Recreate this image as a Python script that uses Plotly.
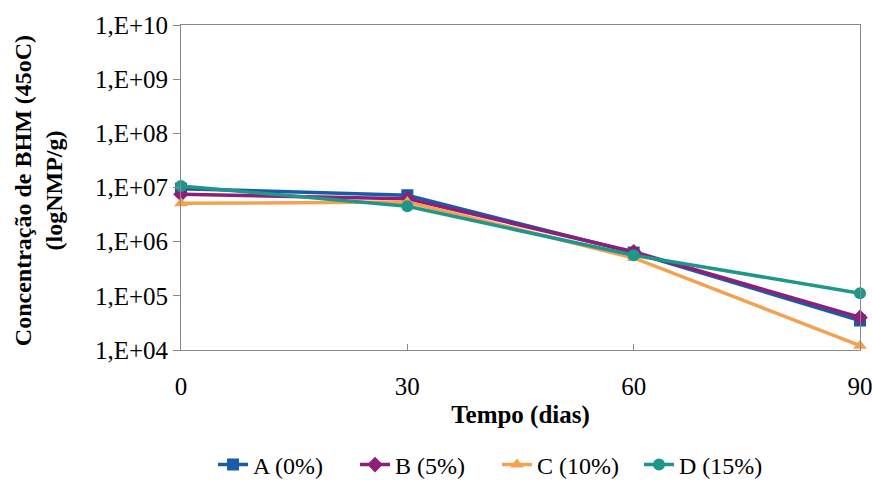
import plotly.graph_objects as go

# Sampling days and BHM counts (NMP/g) for each treatment
dias = [0, 30, 60, 90]
serie_a = [9.5e6, 7.2e6, 6.3e5, 3.5e4]
serie_b = [7.5e6, 6.2e6, 6.5e5, 4.0e4]
serie_c = [5.1e6, 5.4e6, 5.0e5, 1.2e4]
serie_d = [1.07e7, 4.5e6, 5.6e5, 1.12e5]

nomes = ["A (0%)", "B (5%)", "C (10%)", "D (15%)"]
y_tick_vals = [1e4, 1e5, 1e6, 1e7, 1e8, 1e9, 1e10]
y_tick_text = ["1,E+04", "1,E+05", "1,E+06", "1,E+07", "1,E+08", "1,E+09", "1,E+10"]
x_tick_vals = [0, 30, 60, 90]

estilos = [
    ("#1b5aa6", "square"),
    ("#8e1f78", "diamond"),
    ("#f4a251", "triangle-up"),
    ("#1f968a", "circle"),
]

fonte = "Liberation Serif, Times New Roman, serif"

fig = go.Figure()
for nome, ys, (cor, simbolo) in zip(nomes, [serie_a, serie_b, serie_c, serie_d], estilos):
    fig.add_trace(go.Scatter(
        x=dias, y=ys, name=nome, mode="lines+markers",
        line=dict(color=cor, width=3.5),
        marker=dict(symbol=simbolo, size=12, color=cor),
        cliponaxis=False,
    ))

fig.update_layout(
    width=872, height=480,
    margin=dict(l=181, r=12, t=25, b=130, autoexpand=False),
    paper_bgcolor="white", plot_bgcolor="white",
    font=dict(family=fonte, size=24, color="black"),
    showlegend=True,
    legend=dict(orientation="h", x=213 / 872, xanchor="left",
                xref="container", yref="container", y=(480 - 465) / 480, yanchor="middle",
                font=dict(size=24), traceorder="normal", entrywidth=97),
    xaxis=dict(
        range=[0, 90], tickvals=x_tick_vals, ticks="inside", ticklen=6,
        tickcolor="#888", showgrid=False, zeroline=False,
        showline=True, linecolor="#888", linewidth=1, mirror=True,
        ticklabelstandoff=14, automargin=False, ticklabeloverflow="allow",
        title=dict(text="<b>Tempo (dias)</b>", font=dict(size=25), standoff=6),
        tickfont=dict(size=25),
    ),
    yaxis=dict(
        type="log", range=[4, 10], tickvals=y_tick_vals, ticktext=y_tick_text,
        ticks="outside", ticklen=7, tickcolor="#888", showgrid=False, zeroline=False,
        showline=True, linecolor="#888", linewidth=1, mirror=True, automargin=False,
        tickfont=dict(size=25),
    ),
    annotations=[dict(
        text="<b>Concentração de BHM (45oC)<br>(logNMP/g)</b>",
        textangle=-90, xref="paper", yref="paper", x=-0.21, y=0.49,
        xanchor="center", yanchor="middle", showarrow=False,
        font=dict(size=24, family=fonte),
    )],
)

fig.write_html("out.html")
